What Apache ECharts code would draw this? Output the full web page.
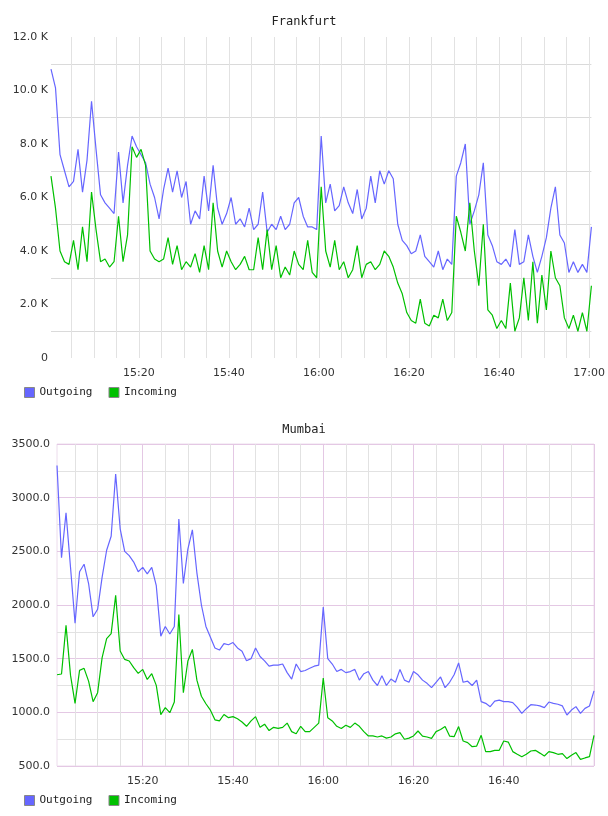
<!DOCTYPE html>
<html>
<head>
<meta charset="utf-8">
<script src="https://cdn.jsdelivr.net/npm/echarts@6/dist/echarts.min.js"></script>
<style>
html, body { margin: 0; padding: 0; background: #fff; }
#chart { width: 608px; height: 816px; }
</style>
</head>
<body>
<div id="chart"></div>
<script>
// time axis is in minutes after 15:00
const timeLabels = ['15:00', '15:20', '15:40', '16:00', '16:20', '16:40', '17:00'];

// Frankfurt: one sample per minute, first at 15:00:30
const frankfurtStart = 0.5;
const frankfurtOutgoing = [
    10800, 10100, 7600, 7000, 6400, 6600, 7800, 6200, 7400, 9600,
    7800, 6100, 5800, 5600, 5400, 7700, 5800, 7200, 8300, 7900,
    7600, 7300, 6500, 6000, 5200, 6300, 7100, 6200, 7000, 6000,
    6600, 5000, 5500, 5200, 6800, 5500, 7200, 5600, 5000, 5400,
    6000, 5000, 5200, 4900, 5600, 4800, 5000, 6200, 4700, 5000,
    4800, 5300, 4800, 5000, 5800, 6000, 5300, 4900, 4900, 4800,
    8300, 5800, 6500, 5500, 5700, 6400, 5800, 5400, 6300, 5200,
    5600, 6800, 5800, 7000, 6500, 7000, 6700, 5000, 4400, 4200,
    3900, 4000, 4600, 3800, 3600, 3400, 4000, 3300, 3700, 3500,
    6800, 7300, 8000, 5000, 5500, 6100, 7300, 4600, 4200, 3600,
    3500, 3700, 3400, 4800, 3500, 3600, 4600, 3800, 3200, 3800,
    4500, 5600, 6400, 4600, 4300, 3200, 3600, 3200, 3500, 3200,
    4900
];
const frankfurtIncoming = [
    6800, 5600, 4000, 3600, 3500, 4400, 3300, 4900, 3600, 6200,
    4800, 3600, 3700, 3400, 3600, 5300, 3600, 4600, 7900, 7500,
    7800, 7200, 4000, 3700, 3600, 3700, 4500, 3500, 4200, 3300,
    3600, 3400, 3900, 3200, 4200, 3300, 5800, 4000, 3400, 4000,
    3600, 3300, 3500, 3800, 3300, 3300, 4500, 3300, 4800, 3300,
    4200, 3000, 3400, 3100, 4000, 3500, 3300, 4400, 3200, 3000,
    6400, 4000, 3400, 4400, 3300, 3600, 3000, 3300, 4200, 3000,
    3500, 3600, 3300, 3500, 4000, 3800, 3400, 2800, 2400, 1700,
    1400, 1300, 2200, 1300, 1200, 1600, 1500, 2200, 1400, 1700,
    5300, 4700, 4000, 5800, 4000, 2700, 5000, 1800, 1600, 1100,
    1400, 1100, 2800, 1000, 1500, 3000, 1400, 3600, 1300, 3100,
    1800, 4000, 3000, 2700, 1500, 1100, 1600, 1000, 1700, 1000,
    2700
];

// Mumbai: one sample per minute, first at 15:01
const mumbaiStart = 1;
const mumbaiOutgoing = [
    3300, 2440, 2860, 2350, 1830, 2310, 2380, 2200, 1890, 1960,
    2260, 2510, 2640, 3220, 2710, 2500, 2460, 2400, 2310, 2350,
    2290, 2350, 2180, 1710, 1800, 1730, 1800, 2800, 2200, 2520,
    2700, 2300, 2000, 1800, 1700, 1600, 1580, 1640, 1630, 1650,
    1600, 1570, 1480, 1500, 1600, 1520, 1480, 1430, 1440, 1440,
    1450, 1370, 1310, 1450, 1380, 1390, 1410, 1430, 1440, 1980,
    1500, 1450, 1380, 1400, 1370, 1380, 1400, 1300, 1360, 1380,
    1300, 1250, 1340, 1250, 1310, 1280, 1400, 1300, 1280, 1380,
    1350, 1300, 1270, 1230, 1280, 1330, 1230, 1280, 1350, 1460,
    1280, 1290, 1250, 1300, 1100, 1084, 1053, 1105, 1114, 1100,
    1100, 1090, 1046, 990, 1034, 1071, 1068, 1060, 1044, 1096,
    1084, 1075, 1060, 975, 1021, 1053, 990, 1037, 1059, 1200
];
const mumbaiIncoming = [
    1350, 1357, 1810, 1344, 1084, 1391, 1410, 1291, 1099, 1183,
    1509, 1686, 1733, 2090, 1571, 1493, 1478, 1416, 1363, 1400,
    1307, 1360, 1251, 978, 1044, 997, 1096, 1912, 1183, 1478,
    1586, 1300, 1150, 1080, 1020, 930, 920, 980, 950, 960,
    940, 910, 870, 920, 960, 860, 890, 830, 860, 850,
    860, 900, 820, 800, 870, 820, 820, 860, 900, 1320,
    950, 920, 870, 850, 880, 860, 900, 870, 820, 780,
    780, 770, 780, 760, 770, 800, 811, 749, 760, 780,
    826, 779, 770, 758, 820, 840, 867, 779, 773, 867,
    733, 718, 680, 686, 786, 634, 634, 646, 646, 733,
    723, 634, 610, 587, 610, 640, 646, 620, 593, 634,
    625, 609, 615, 569, 600, 625, 562, 575, 587, 786
];

const OUT_COLOR = '#6666ff';
const IN_COLOR = '#00c000';
const NONE = 'rgba(0,0,0,0)';
const GRID_GRAY = '#e2e2e2';
const GRID_PINK = '#e4c8e4';

function toPairs(start, values) {
    return values.map((v, i) => [start + i, v]);
}

function isMultiple(v, n) {
    return Math.abs(v / n - Math.round(v / n)) < 1e-6;
}

function timeFormatter(hideLast) {
    return v => {
        if (!isMultiple(v, 20)) return '';
        if (hideLast && Math.round(v) === 120) return '';
        return timeLabels[Math.round(v / 20)] || '';
    };
}

const labelFont = { fontFamily: 'DejaVu Sans', fontSize: 11, color: '#333' };
const monoFont = { fontFamily: 'DejaVu Sans Mono', fontSize: 11, color: '#222' };

// top chart: ticks every 30 s, grid line every 5 min
const topVColors = [NONE, NONE, NONE, NONE, NONE, NONE, NONE, NONE, NONE, GRID_GRAY];
// bottom chart: ticks every min, grey every 5 min, pink every 20 min
const bottomVColors = [];
for (let i = 0; i < 20; i++) {
    const minute = mumbaiStart + i;
    bottomVColors.push(minute % 20 === 0 ? GRID_PINK : (minute % 5 === 0 ? GRID_GRAY : NONE));
}

const chart = echarts.init(document.getElementById('chart'), null, { renderer: 'canvas' });

const lineSeries = (name, color, data, idx) => ({
    name: name,
    type: 'line',
    xAxisIndex: idx,
    yAxisIndex: idx,
    data: data,
    showSymbol: false,
    symbol: 'none',
    color: color,
    lineStyle: { color: color, width: 1.2 },
    emphasis: { disabled: true }
});

const legendBase = {
    data: ['Outgoing', 'Incoming'], left: 24, icon: 'rect',
    itemWidth: 10, itemHeight: 10, itemGap: 16,
    itemStyle: { borderColor: '#888', borderWidth: 1 },
    textStyle: monoFont, padding: 0
};

const option = {
    animation: false,
    backgroundColor: '#fff',
    title: [
        { text: 'Frankfurt', left: 'center', top: 11, textStyle: Object.assign({}, monoFont, { fontSize: 12, fontWeight: 'normal' }) },
        { text: 'Mumbai', left: 'center', top: 419, textStyle: Object.assign({}, monoFont, { fontSize: 12, fontWeight: 'normal' }) }
    ],
    legend: [
        Object.assign({}, legendBase, { top: 387 }),
        Object.assign({}, legendBase, { top: 795 })
    ],
    grid: [
        { left: 51, top: 37, width: 542, height: 321, show: false },
        { left: 57, top: 444, width: 537, height: 322, show: true, borderColor: '#ecdcec', borderWidth: 1, backgroundColor: 'transparent' }
    ],
    xAxis: [
        {
            type: 'value', gridIndex: 0, min: 0.5, max: 120.5, interval: 0.5,
            axisLine: { show: false }, axisTick: { show: false },
            axisLabel: Object.assign({ formatter: timeFormatter(false), margin: 10, showMinLabel: true, showMaxLabel: true }, labelFont),
            splitLine: { show: true, lineStyle: { color: topVColors, width: 1 } }
        },
        {
            type: 'value', gridIndex: 1, min: 1, max: 120, interval: 1,
            axisLine: { show: false }, axisTick: { show: false },
            axisLabel: Object.assign({ formatter: timeFormatter(true), margin: 10 }, labelFont),
            splitLine: { show: true, lineStyle: { color: bottomVColors, width: 1 } }
        }
    ],
    yAxis: [
        {
            type: 'value', gridIndex: 0, min: 0, max: 12000, interval: 1000,
            axisLine: { show: false }, axisTick: { show: false },
            axisLabel: Object.assign({
                margin: 3,
                formatter: v => v === 0 ? '0' : (v % 2000 === 0 ? (v / 1000).toFixed(1) + ' K' : '')
            }, labelFont),
            splitLine: { show: true, lineStyle: { color: [NONE, '#dadada'], width: 1 } }
        },
        {
            type: 'value', gridIndex: 1, min: 500, max: 3500, interval: 250,
            axisLine: { show: false }, axisTick: { show: false },
            axisLabel: Object.assign({
                margin: 7,
                formatter: v => v % 500 === 0 ? v.toFixed(1) : ''
            }, labelFont),
            splitLine: { show: true, lineStyle: { color: [GRID_PINK, GRID_GRAY], width: 1 } }
        }
    ],
    series: [
        lineSeries('Outgoing', OUT_COLOR, toPairs(frankfurtStart, frankfurtOutgoing), 0),
        lineSeries('Incoming', IN_COLOR, toPairs(frankfurtStart, frankfurtIncoming), 0),
        lineSeries('Outgoing', OUT_COLOR, toPairs(mumbaiStart, mumbaiOutgoing), 1),
        lineSeries('Incoming', IN_COLOR, toPairs(mumbaiStart, mumbaiIncoming), 1)
    ]
};

chart.setOption(option);
</script>
</body>
</html>
